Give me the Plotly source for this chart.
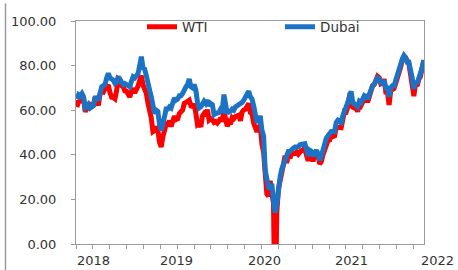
import pandas as pd
import plotly.graph_objects as go

# ---- data (weekly values, US$/bbl) ----
wti_2018 = [61.4, 64.3, 63.4, 66.1, 65.4, 59.2, 61.7, 63.5, 61.2, 62.0, 62.3, 65.9, 64.9,
            62.1, 67.4, 68.4, 68.1, 69.7, 70.7, 71.3, 67.9, 65.8, 65.7, 65.1, 68.6, 74.2,
            73.8, 71.0, 70.5, 68.7, 68.5, 67.6, 65.9, 68.7, 69.8, 67.8, 69.0, 70.8, 73.3,
            75.5, 71.3, 69.1, 67.6, 63.1, 60.2, 56.5, 50.4, 50.9, 52.6, 51.2, 45.6, 43.5]
dubai_2018 = [65.0, 67.0, 66.5, 67.5, 66.0, 61.0, 61.5, 62.5, 61.0, 61.5, 62.0, 65.5, 65.5,
              64.5, 69.0, 70.5, 71.0, 71.5, 74.5, 76.5, 74.5, 74.0, 73.5, 72.0, 72.5, 75.0,
              74.0, 72.5, 71.5, 72.0, 71.5, 71.0, 70.5, 73.0, 75.0, 74.5, 75.5, 76.5, 80.0,
              84.0, 79.0, 78.5, 75.5, 71.0, 69.0, 66.0, 61.0, 58.5, 60.0, 59.5, 53.5, 51.0]
wti_2019 = [47.9, 51.6, 53.8, 53.7, 55.3, 52.7, 55.6, 57.3, 55.8, 56.1, 58.5, 59.0, 60.1,
            63.1, 63.9, 64.0, 64.5, 61.9, 61.7, 62.8, 58.6, 53.5, 54.0, 52.5, 57.4, 58.5,
            57.5, 60.2, 55.6, 56.2, 55.7, 54.5, 54.9, 54.2, 55.1, 56.5, 54.9, 60.5, 55.9,
            52.8, 54.7, 53.8, 56.7, 56.2, 57.2, 57.7, 57.8, 55.2, 59.2, 60.1, 60.4, 61.7]
dubai_2019 = [53.5, 58.0, 60.5, 60.5, 61.5, 61.0, 64.5, 65.5, 64.5, 65.0, 66.5, 66.5, 67.5,
              69.5, 70.5, 71.5, 74.0, 70.5, 70.0, 71.5, 69.0, 63.5, 61.0, 61.5, 62.5, 64.0,
              63.0, 64.5, 62.0, 63.0, 62.5, 58.0, 58.5, 58.5, 59.0, 60.5, 60.0, 67.0, 61.5,
              58.5, 59.5, 59.5, 60.5, 60.0, 61.5, 62.0, 62.0, 62.5, 63.5, 64.5, 66.0, 68.0]
wti_2020 = [63.0, 59.0, 58.5, 54.2, 51.6, 50.3, 52.0, 53.4, 44.8, 41.3, 31.7, 22.4, 21.5,
            28.3, 22.8, 18.3, -37.6, 14.0, 24.7, 29.4, 33.2, 35.5, 39.6, 36.3, 39.7, 38.5,
            40.6, 40.5, 40.6, 41.3, 40.3, 41.2, 42.0, 42.3, 43.0, 39.8, 37.3, 41.1, 40.2,
            37.0, 40.6, 40.9, 39.8, 35.8, 37.1, 40.1, 42.1, 45.5, 46.3, 46.6, 49.1, 48.2]
dubai_2020 = [68.5, 66.0, 65.0, 62.0, 57.5, 54.5, 55.5, 57.5, 51.0, 48.5, 33.0, 28.0, 25.5,
              25.0, 27.0, 19.5, 14.0, 17.5, 25.5, 30.0, 33.5, 35.5, 38.5, 39.5, 41.5, 41.5,
              42.5, 43.0, 43.5, 43.5, 43.5, 44.5, 44.5, 44.5, 45.0, 42.5, 39.5, 42.0, 41.5,
              39.5, 41.5, 42.0, 40.5, 37.5, 39.5, 42.5, 44.0, 47.5, 48.5, 49.5, 50.5, 50.5]
wti_2021 = [48.5, 52.2, 52.4, 52.3, 52.2, 56.8, 59.5, 59.2, 61.5, 66.1, 65.6, 61.4, 61.0,
            61.4, 59.3, 63.1, 62.1, 63.6, 64.9, 65.4, 63.6, 66.3, 69.6, 70.9, 71.6, 74.0,
            75.2, 74.6, 71.8, 72.1, 73.9, 68.3, 68.4, 62.3, 68.7, 69.3, 69.7, 72.0, 74.0,
            75.9, 79.3, 82.3, 83.8, 83.6, 81.3, 80.8, 76.1, 68.2, 66.3, 71.7, 70.9, 73.8, 75.2]
dubai_2021 = [50.5, 54.5, 55.5, 55.0, 54.5, 57.5, 60.5, 61.5, 63.5, 66.5, 68.5, 63.5, 63.0,
              62.5, 61.5, 64.0, 63.5, 65.0, 66.5, 66.0, 65.0, 67.0, 69.5, 71.0, 71.5, 73.0,
              74.5, 74.0, 72.0, 71.5, 73.5, 70.0, 70.0, 66.0, 70.0, 71.0, 71.0, 73.0, 75.0,
              77.5, 80.5, 83.0, 84.5, 83.5, 81.5, 81.5, 78.5, 74.5, 69.5, 73.0, 72.0, 74.0, 76.5]
wti_2022 = [78.9, 82.0]
dubai_2022 = [79.0, 82.5]

first_fridays = ["2018-01-05", "2019-01-04", "2020-01-03", "2021-01-01", "2022-01-07"]
wti_years = [wti_2018, wti_2019, wti_2020, wti_2021, wti_2022]
dubai_years = [dubai_2018, dubai_2019, dubai_2020, dubai_2021, dubai_2022]

year_labels = ["2018", "2019", "2020", "2021", "2022"]
y_ticks = [0, 20, 40, 60, 80, 100]

dates, wti, dubai = [], [], []
for start, w, d in zip(first_fridays, wti_years, dubai_years):
    n = min(len(w), len(d))
    dates += list(pd.date_range(start, periods=n, freq="7D"))
    wti += w[:n]
    dubai += d[:n]

RED = "#FF0000"
BLUE = "#1C72C4"
FONT = "DejaVu Sans"
TXT = "#333333"
AX = "#9a9a9a"

fig = go.Figure()
fig.add_trace(go.Scatter(x=dates, y=wti, mode="lines", name="WTI",
                         line=dict(color=RED, width=5), legend="legend"))
fig.add_trace(go.Scatter(x=dates, y=dubai, mode="lines", name="Dubai",
                         line=dict(color=BLUE, width=5), legend="legend2"))

W, H = 458, 270
L, R, T, B = 76, 34, 16, 26
pw = W - L - R
ph = H - T - B

legend_common = dict(orientation="h", yanchor="middle", y=0.973, xanchor="left",
                     bgcolor="rgba(0,0,0,0)", font=dict(family=FONT, size=13.5, color=TXT),
                     itemwidth=30)

fig.update_layout(
    width=W, height=H,
    margin=dict(l=L, r=R, t=T, b=B),
    paper_bgcolor="white", plot_bgcolor="white",
    showlegend=True,
    legend=dict(x=(142 - L) / pw, **legend_common),
    legend2=dict(x=(280 - L) / pw, **legend_common),
    xaxis=dict(
        type="date",
        range=["2018-01-01", "2022-01-15"],
        showgrid=False, zeroline=False,
        showline=True, linecolor=AX, linewidth=1, mirror=True,
        ticks="outside", ticklen=4, tickcolor=AX,
        tick0="2018-01-01", dtick=71.5 * 86400000,
        showticklabels=False,
    ),
    yaxis=dict(
        range=[0, 100],
        tickvals=y_ticks, tickformat=".2f",
        showgrid=False, zeroline=False,
        showline=True, linecolor=AX, linewidth=1, mirror=True,
        ticks="outside", ticklen=4, tickcolor=AX,
        ticklabelstandoff=12,
        tickfont=dict(family=FONT, size=13, color=TXT),
    ),
)

label_px = [93, 176.5, 264, 351, 437.5]
for lab, px in zip(year_labels, label_px):
    fig.add_annotation(text=lab, xref="paper", yref="paper",
                       x=(px - L) / pw, y=-17 / ph,
                       xanchor="center", yanchor="middle", showarrow=False,
                       font=dict(family=FONT, size=13, color=TXT))

# outer chart-frame edge visible at the left of the picture
fig.add_shape(type="line", xref="paper", yref="paper",
              x0=(5.5 - L) / pw, x1=(5.5 - L) / pw,
              y0=-(B + 2) / ph, y1=1 + (T + 2) / ph,
              line=dict(color=AX, width=1.5))

fig.write_html("out.html",
               config={"displayModeBar": False},
               post_script="document.body.style.margin='0';document.body.style.overflow='hidden';")
